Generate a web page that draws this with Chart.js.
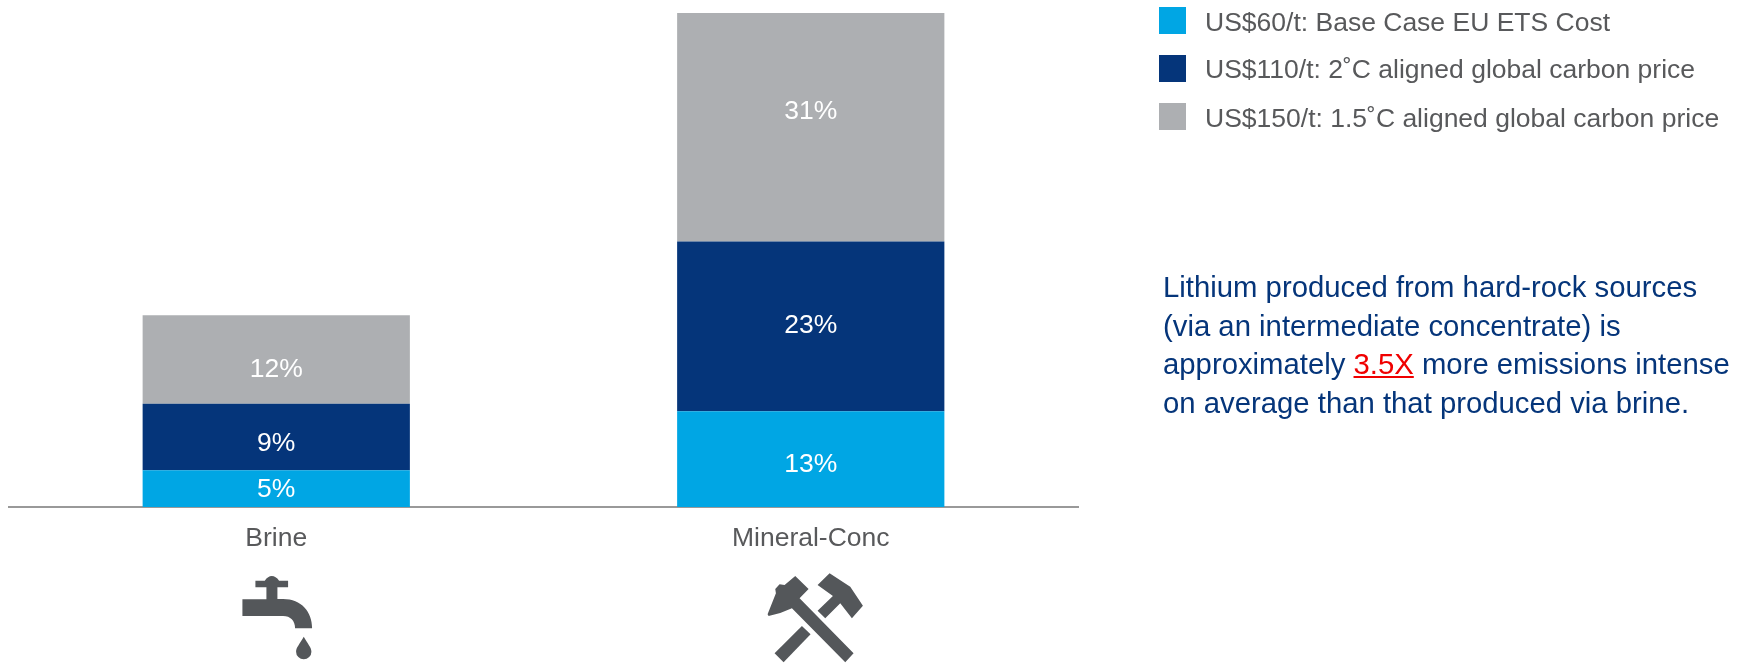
<!DOCTYPE html>
<html>
<head>
<meta charset="utf-8">
<script src="https://cdn.jsdelivr.net/npm/chart.js@4"></script>
<style>
  html, body { margin: 0; padding: 0; background: #fff; }
  body { width: 1738px; height: 666px; position: relative; overflow: hidden; font-family: "Liberation Sans", Arial, sans-serif; }
  #chart { position: absolute; left: 0; top: 0; }
  .key { position: absolute; left: 1159px; width: 27px; height: 27px; }
  .keytext { position: absolute; left: 1205px; font-size: 26.5px; line-height: 27px; color: #58595b; white-space: nowrap; }
  #note { position: absolute; left: 1163px; top: 268px; font-size: 29.3px; line-height: 38.6px; color: #05357a; white-space: nowrap; }
  #note u { color: #f00000; }
</style>
</head>
<body>
<canvas id="chart" width="1738" height="666"></canvas>
<div id="note">Lithium produced from hard-rock sources<br>(via an intermediate concentrate) is<br>approximately <u>3.5X</u> more emissions intense<br>on average than that produced via brine.</div>
<script>
const categories = ["Brine", "Mineral-Conc"];
const seriesNames = [
  "US$60/t: Base Case EU ETS Cost",
  "US$110/t: 2˚C aligned global carbon price",
  "US$150/t: 1.5˚C aligned global carbon price"
];
const baseCase = [5, 13];
const twoDegree = [9, 23];
const onePointFive = [12, 31];
const seriesColors = ["#00a6e4", "#05357a", "#adafb2"];
const keyTops = [7, 55, 103];
const keyTextTops = [9, 56, 105];
// Vertical nudge of each percentage figure away from its segment centre.
const labelNudges = [[1, 6], [7, -1], [10, -16]];

// Icon outlines, in a local grid three times finer than a page pixel.
const tapIcon = [
  "M167 32 L195 32 Q205 18 216 18 Q228 18 238 32 L265 32 L265 52 L233 52 L233 87 L250 87 C305 87 337 125 337 175 L286 175 C286 152 272 138 250 138 L128 138 L128 88 L200 88 L200 52 L167 52 Z",
  "M312 200 C300 222 289 232 289 245 A23 23 0 0 0 335 245 C335 232 324 222 312 200 Z"
];
const hammerIcon = [
  "M165 33 L205 72 L178 100 L340 265 L315 292 L155 130 Q120 147 85 153 L82 148 L107 85 L105 72 L118 58 L133 60 Z",
  "M185 183 L211 208 L130 292 L103 265 Z",
  "M232 60 L268 25 L330 65 L368 122 L335 160 L300 115 L255 160 L232 137 L278 93 Z"
];
const iconSets = [
  { paths: tapIcon, originX: 229.5, top: 570 },
  { paths: hammerIcon, originX: 211.5, top: 565 }
];

// White percentage figure on each stacked segment.
const segmentLabels = {
  id: "segmentLabels",
  afterDatasetsDraw(chart) {
    const ctx = chart.ctx;
    ctx.save();
    ctx.fillStyle = "#ffffff";
    ctx.font = '26.5px "Liberation Sans", Arial, sans-serif';
    ctx.textAlign = "center";
    ctx.textBaseline = "middle";
    chart.data.datasets.forEach((ds, i) => {
      chart.getDatasetMeta(i).data.forEach((bar, j) => {
        const c = bar.getCenterPoint();
        ctx.fillText(ds.data[j] + "%", c.x, c.y + labelNudges[i][j]);
      });
    });
    ctx.restore();
  }
};

// Tap and crossed-hammers pictograms below the category names.
const categoryIcons = {
  id: "categoryIcons",
  afterDraw(chart) {
    const ctx = chart.ctx;
    const xScale = chart.scales.x;
    ctx.save();
    ctx.fillStyle = "#54575a";
    iconSets.forEach((icon, i) => {
      ctx.save();
      ctx.translate(xScale.getPixelForValue(i), icon.top);
      ctx.scale(1 / 3, 1 / 3);
      ctx.translate(-icon.originX, 0);
      icon.paths.forEach(d => ctx.fill(new Path2D(d)));
      ctx.restore();
    });
    ctx.restore();
  }
};

new Chart(document.getElementById("chart"), {
  type: "bar",
  data: {
    labels: categories,
    datasets: [baseCase, twoDegree, onePointFive].map((values, i) => ({
      label: seriesNames[i],
      data: values,
      backgroundColor: seriesColors[i],
      barPercentage: 0.5,
      categoryPercentage: 1
    }))
  },
  options: {
    responsive: false,
    animation: false,
    layout: { padding: { left: 9, right: 660, top: 13, bottom: 0 } },
    plugins: { legend: { display: false }, tooltip: { enabled: false } },
    scales: {
      x: {
        stacked: true,
        afterFit(scale) { scale.height = 159; },
        grid: { display: false, drawTicks: false },
        border: { color: "#999999", width: 2 },
        ticks: {
          color: "#58595b",
          padding: 16,
          maxRotation: 0,
          font: { family: '"Liberation Sans", Arial, sans-serif', size: 26.5 }
        }
      },
      y: { stacked: true, display: false, min: 0, max: 67 }
    }
  },
  plugins: [segmentLabels, categoryIcons]
});

// Series key in the upper right.
seriesNames.forEach((name, i) => {
  const swatch = document.createElement("div");
  swatch.className = "key";
  swatch.style.top = keyTops[i] + "px";
  swatch.style.background = seriesColors[i];
  document.body.appendChild(swatch);
  const text = document.createElement("div");
  text.className = "keytext";
  text.style.top = keyTextTops[i] + "px";
  text.textContent = name;
  document.body.appendChild(text);
});
</script>
</body>
</html>
